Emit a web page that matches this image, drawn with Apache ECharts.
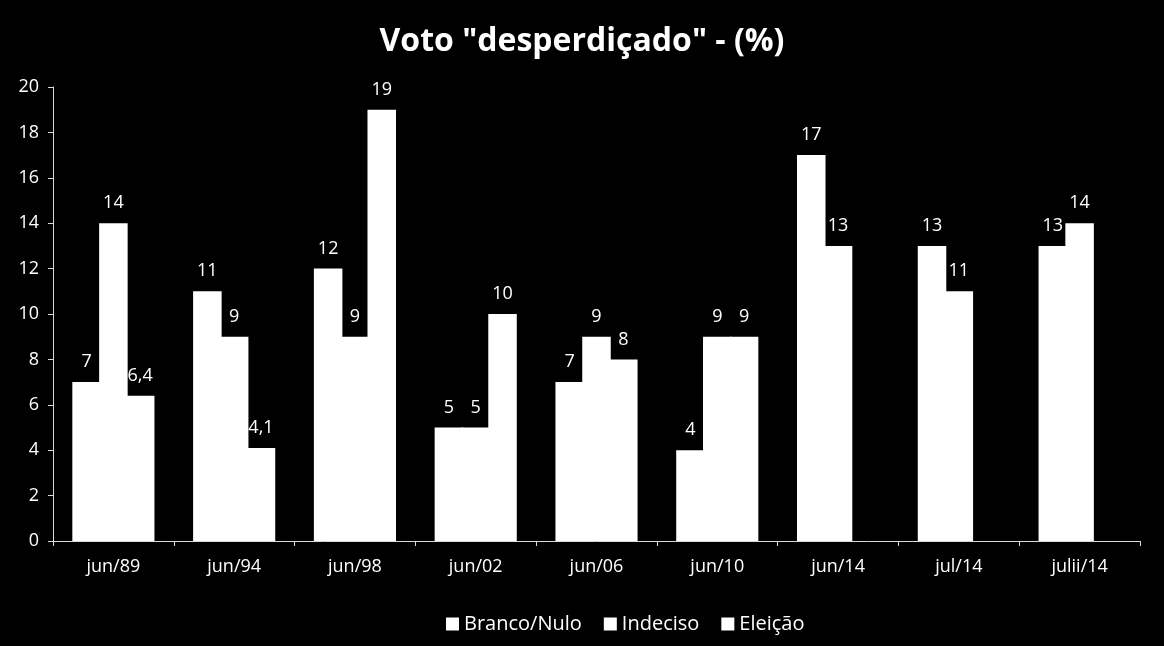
<!DOCTYPE html>
<html><head><meta charset="utf-8">
<script src="https://cdn.jsdelivr.net/npm/echarts@6/dist/echarts.min.js"></script>
<style>html,body{margin:0;padding:0;background:#000}#c{width:1164px;height:646px}</style>
</head><body><div id="c"></div>
<script>
const categories = ['jun/89','jun/94','jun/98','jun/02','jun/06','jun/10','jun/14','jul/14','julii/14'];
const brancoNulo = [7, 11, 12, 5, 7, 4, 17, 13, 13];
const indeciso = [14, 9, 9, 5, 9, 9, 13, 11, 14];
const eleicao = [6.4, 4.1, 19, 10, 8, 9, null, null, null];
const yTicks = [0,2,4,6,8,10,12,14,16,18,20];

const font = '"Open Sans", "Noto Sans", sans-serif';
const lbl = {show:true, position:'top', color:'#fff', fontSize:18, fontFamily:font, distance:11,
  formatter: p => String(p.value).replace('.', ',')};
function s(name, data){
  return {name, type:'bar', data, barGap:'-6%', barCategoryGap:'32%',
    itemStyle:{color:'#fff', borderWidth:0}, label:lbl};
}
const chart = echarts.init(document.getElementById('c'));
chart.setOption({
  backgroundColor:'#000',
  animation:false,
  title:{text:'Voto "desperdiçado" - (%)', left:'center', top:21,
    textStyle:{color:'#fff', fontSize:32, fontWeight:'bold', fontFamily:font}},
  legend:{bottom:7, left:441, icon:'rect', itemWidth:13, itemHeight:13, itemGap:22,
    textStyle:{color:'#fff', fontSize:20, fontFamily:font},
    data:['Branco/Nulo','Indeciso','Eleição']},
  grid:{left:53, right:24, top:87, bottom:105, containLabel:false},
  xAxis:{type:'category', data:categories,
    axisLine:{lineStyle:{color:'#d9d9d9', width:1}},
    axisTick:{show:true, length:5, lineStyle:{color:'#d9d9d9'}},
    axisLabel:{color:'#fff', fontSize:18, fontFamily:font, margin:17}},
  yAxis:{type:'value', min:yTicks[0], max:yTicks[yTicks.length-1], interval:2,
    axisLine:{show:true, lineStyle:{color:'#d9d9d9', width:1}},
    axisTick:{show:true, length:5, lineStyle:{color:'#d9d9d9'}},
    splitLine:{show:false},
    axisLabel:{color:'#fff', fontSize:18, fontFamily:font, margin:14}},
  series:[s('Branco/Nulo', brancoNulo), s('Indeciso', indeciso), s('Eleição', eleicao)]
});
</script></body></html>
